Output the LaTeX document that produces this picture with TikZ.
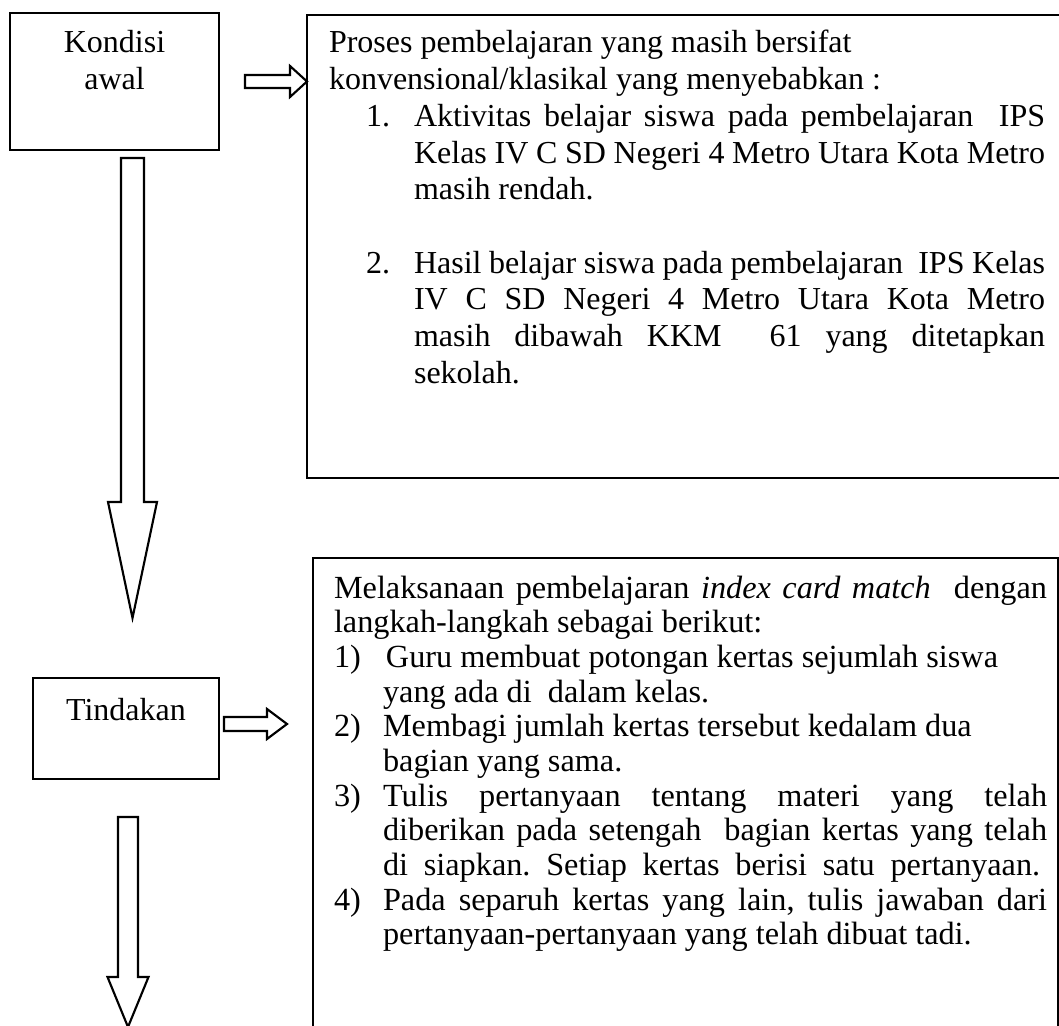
\documentclass[tikz,border=0pt]{standalone}
\usepackage{fontspec}
\setmainfont{Liberation Serif}
\frenchspacing
\newcommand\RL[2]{\noindent\hspace*{#1}#2\par}
\newcommand\JL[2]{\noindent\hspace*{#1}\makebox[\dimexpr\linewidth-#1\relax][s]{#2}\par}
\newcommand\NRL[4]{\noindent\hspace*{#1}\makebox[\dimexpr#2-#1\relax][l]{#3}#4\par}
\newcommand\NJL[4]{\noindent\hspace*{#1}\makebox[\dimexpr#2-#1\relax][l]{#3}\makebox[\dimexpr\linewidth-#2\relax][s]{#4}\par}
\begin{document}
\begin{tikzpicture}[x=0.375pt,y=-0.375pt,
  boxnode/.style={draw, line width=0.85pt, inner sep=0pt, outer sep=0pt},
  blockarrow/.style={draw, line width=0.8pt, line join=miter, fill=white},
  txt/.style={inner sep=0pt, outer sep=0pt, anchor=base west, font=\fontsize{12pt}{14pt}\selectfont}]
\useasboundingbox (0,0) rectangle (1059,1026);
\clip (0,0) rectangle (1059,1026);
\fill[white] (0,0) rectangle (1059,1026);

% boxes
\node[boxnode, minimum width=78.375pt, minimum height=51.375pt] (kondisi) at (114.5,81.5) {};
\node[txt, anchor=base] (kt1) at (114.5,53) {Kondisi};
\node[txt, anchor=base] (kt2) at (114.5,90) {awal};

\node[boxnode, minimum width=286.125pt, minimum height=173.625pt] (box1) at (688.5,246.5) {};
\node[txt] (t1) at (329,53) {\parbox[t]{268.5pt}{\setlength{\parskip}{0pt}\setlength{\lineskiplimit}{-20pt}\fontsize{12pt}{13.76pt}\selectfont
\RL{0pt}{Proses pembelajaran yang masih bersifat}
\RL{0pt}{konvensional/klasikal yang menyebabkan :}
\NJL{13.9pt}{31.9pt}{1.}{Aktivitas belajar siswa pada pembelajaran\ \ IPS}
\JL{31.9pt}{Kelas IV C SD Negeri 4 Metro Utara Kota Metro}
\RL{31.9pt}{masih rendah.}
\RL{0pt}{\strut}
\NJL{13.9pt}{31.9pt}{2.}{Hasil belajar siswa pada pembelajaran\ \ IPS Kelas}
\JL{31.9pt}{IV C SD Negeri 4 Metro Utara Kota Metro}
\JL{31.9pt}{masih dibawah KKM\ \ 61 yang ditetapkan}
\RL{31.9pt}{sekolah.}}};

\node[boxnode, minimum width=69.75pt, minimum height=37.875pt] (tindakan) at (126,728.5) {};
\node[txt, anchor=base] (tt) at (126,720) {Tindakan};

\node[boxnode, minimum width=279.375pt, minimum height=180.75pt] (box2) at (685.5,799) {};
\node[txt] (t2) at (334,598) {\parbox[t]{267.4pt}{\setlength{\parskip}{0pt}\setlength{\lineskiplimit}{-20pt}\fontsize{12.1pt}{13pt}\selectfont
\JL{0pt}{Melaksanaan pembelajaran \textit{index card match}\ \ dengan}
\RL{0pt}{langkah-langkah sebagai berikut:}
\NRL{0pt}{18.4pt}{1)}{\hspace*{1.1pt}Guru membuat potongan kertas sejumlah siswa}
\RL{18.4pt}{yang ada di\ \ dalam kelas.}
\NRL{0pt}{18.4pt}{2)}{Membagi jumlah kertas tersebut kedalam dua}
\RL{18.4pt}{bagian yang sama.}
\NJL{0pt}{18.4pt}{3)}{Tulis pertanyaan tentang materi yang telah}
\JL{18.4pt}{diberikan pada setengah\ \ bagian kertas yang telah}
\noindent\hspace*{18.4pt}\makebox[\dimexpr\linewidth-21pt\relax][s]{di siapkan. Setiap kertas berisi satu pertanyaan.}\par
\NJL{0pt}{18.4pt}{4)}{Pada separuh kertas yang lain, tulis jawaban dari}
\RL{18.4pt}{pertanyaan-pertanyaan yang telah dibuat tadi.}}};

% block arrows
\draw[blockarrow] (245,75) -- (290,75) -- (290,66) -- (307,81.5) -- (290,97) -- (290,88) -- (245,88) -- cycle;
\draw[blockarrow] (224,717) -- (267,717) -- (267,709) -- (287,724) -- (267,739) -- (267,731) -- (224,731) -- cycle;
\draw[blockarrow] (121,158) -- (144,158) -- (144,502) -- (157,502) -- (132.5,618) -- (108,502) -- (121,502) -- cycle;
\draw[blockarrow] (118,817) -- (138,817) -- (138,977) -- (148.5,977) -- (128,1027) -- (107.5,977) -- (118,977) -- cycle;
\end{tikzpicture}
\end{document}
